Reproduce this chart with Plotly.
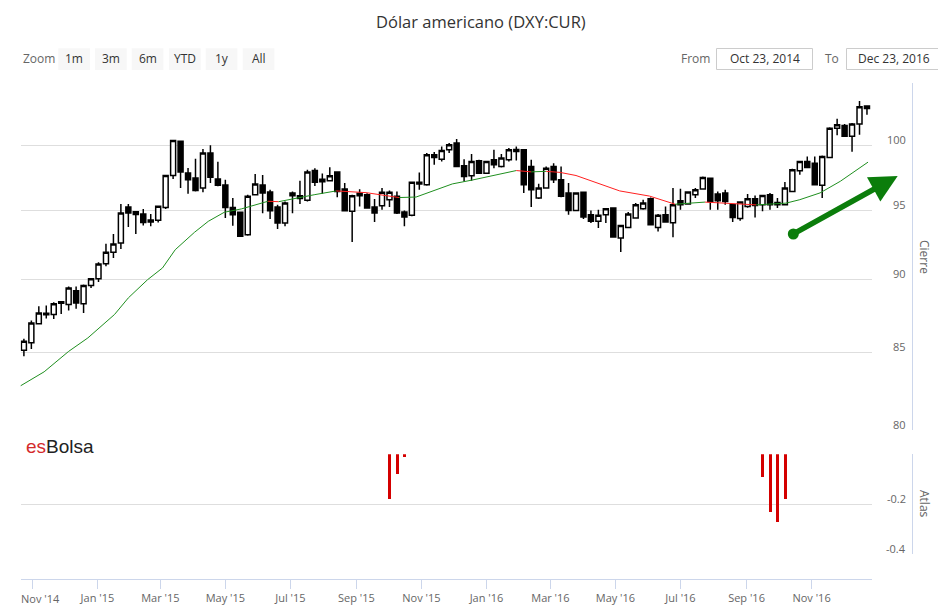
import math
import pandas as pd
import plotly.graph_objects as go

# the page body has an 8px margin, so the figure is drawn 8px in from the corner
OFF = 8
W, H = 946 - OFF, 608 - OFF

# ---- weekly DXY candles (Friday) ----
dates = pd.date_range("2014-10-24", periods=114, freq="7D")
opens = [85.15, 85.65, 86.94, 87.55, 87.57, 88.45, 88.26, 89.22, 88.32, 89.59,
         90.06, 91.13, 91.94, 92.62, 95.26, 94.90, 94.74, 94.15, 94.27, 95.23,
         97.65, 100.30, 97.83, 97.45, 96.69, 99.37, 97.37, 96.92, 95.23, 94.88,
         93.22, 96.18, 96.92, 96.38, 95.26, 94.07, 96.31, 96.10, 95.76, 98.03,
         97.35, 97.24, 97.90, 96.61, 94.94, 96.30, 96.18, 95.26, 95.36, 95.81,
         96.06, 94.89, 94.64, 97.00, 96.94, 99.24, 98.90, 99.63, 100.15, 98.38,
         97.62, 98.77, 97.82, 98.85, 98.33, 98.85, 99.50, 99.63, 98.33, 95.94,
         96.69, 98.33, 97.32, 96.31, 95.01, 96.36, 94.69, 94.20, 94.69, 95.19,
         92.98, 93.75, 94.44, 95.13, 95.88, 93.75, 94.69, 94.10, 95.73, 95.48,
         96.18, 96.61, 97.44, 96.23, 96.31, 95.43, 94.40, 95.30, 95.88, 95.43,
         96.18, 95.60, 95.43, 96.43, 98.00, 98.72, 98.59, 96.89, 99.02, 101.33,
         101.54, 100.68, 101.65, 103.10]
highs = [85.92, 87.17, 88.14, 88.20, 88.41, 88.50, 89.52, 89.52, 89.65, 90.10,
         91.23, 92.56, 93.27, 95.48, 95.48, 94.95, 95.11, 94.74, 95.36, 97.70,
         100.40, 100.35, 98.21, 98.93, 99.68, 99.99, 98.70, 97.32, 95.93, 94.90,
         96.18, 97.75, 97.68, 96.56, 95.43, 95.68, 96.43, 97.24, 98.08, 98.20,
         97.80, 98.28, 97.95, 97.07, 96.18, 96.60, 96.30, 95.86, 96.69, 96.51,
         96.43, 95.01, 97.15, 97.87, 99.37, 99.45, 99.89, 100.15, 100.47, 98.90,
         99.29, 98.85, 98.75, 99.63, 99.29, 99.76, 99.89, 99.65, 98.85, 97.02,
         98.33, 98.59, 98.33, 97.07, 96.36, 96.38, 95.01, 95.06, 95.19, 95.20,
         93.95, 94.89, 95.56, 95.81, 95.98, 94.74, 95.30, 96.69, 96.64, 96.43,
         96.69, 97.57, 97.47, 96.43, 96.56, 95.45, 95.68, 96.23, 96.13, 96.18,
         96.31, 95.93, 97.15, 98.16, 98.77, 99.10, 99.10, 99.18, 101.41, 102.08,
         101.65, 101.73, 103.50, 103.15]
lows = [84.76, 85.24, 86.90, 87.30, 87.27, 87.60, 87.84, 87.96, 87.68, 89.41,
        89.83, 90.94, 91.54, 92.18, 93.78, 93.27, 93.90, 93.83, 94.12, 95.11,
        97.37, 96.69, 96.25, 96.43, 96.36, 97.07, 96.82, 94.44, 93.88, 93.05,
        93.15, 96.13, 94.79, 94.37, 93.63, 93.83, 94.79, 95.48, 95.68, 96.84,
        96.25, 97.22, 96.00, 94.94, 92.69, 95.30, 95.15, 94.15, 95.06, 95.26,
        94.74, 93.83, 94.57, 96.56, 96.87, 98.46, 98.72, 99.37, 98.30, 97.19,
        97.24, 97.80, 97.80, 98.20, 98.25, 98.72, 98.80, 96.31, 95.26, 95.86,
        96.65, 97.07, 96.00, 94.69, 94.99, 94.37, 94.07, 93.70, 94.07, 93.00,
        91.96, 93.70, 94.40, 95.06, 93.90, 93.46, 94.10, 93.03, 95.06, 95.43,
        95.93, 96.56, 95.06, 95.06, 95.43, 94.15, 94.25, 95.20, 94.49, 94.94,
        95.06, 95.19, 95.38, 96.38, 97.70, 98.20, 96.89, 95.93, 98.97, 100.76,
        100.65, 99.47, 100.81, 102.40]
closes = [85.76, 86.99, 87.68, 87.65, 88.32, 88.35, 89.41, 88.37, 89.59, 90.06,
          91.11, 91.94, 92.54, 94.81, 94.81, 94.70, 94.12, 94.30, 95.31, 97.65,
          100.35, 97.90, 97.32, 96.51, 99.37, 97.50, 96.89, 95.23, 94.69, 93.10,
          96.06, 96.99, 96.31, 94.98, 94.07, 95.56, 96.11, 95.90, 97.90, 97.12,
          97.17, 97.62, 96.43, 94.99, 96.11, 96.10, 95.19, 94.82, 96.36, 96.36,
          94.82, 94.52, 97.12, 97.12, 99.24, 99.03, 99.58, 100.02, 98.33, 97.57,
          98.72, 97.82, 98.72, 98.46, 98.98, 99.63, 99.65, 96.94, 96.56, 96.69,
          98.20, 97.32, 96.06, 95.01, 96.31, 94.52, 94.20, 94.64, 95.13, 93.05,
          93.90, 94.74, 95.43, 95.56, 93.95, 94.64, 94.15, 95.43, 95.43, 96.38,
          96.56, 97.49, 95.68, 95.73, 95.68, 94.49, 95.63, 95.88, 95.38, 96.13,
          95.43, 95.43, 96.69, 98.08, 98.72, 98.26, 96.94, 99.10, 101.33, 101.60,
          100.68, 101.65, 103.05, 102.90]

# moving average of the close (green rising / red falling)
ma_dates = ["2014-10-20", "2014-11-12", "2014-12-05", "2014-12-23", "2015-01-17",
            "2015-01-30", "2015-02-17", "2015-03-03", "2015-03-15", "2015-04-02",
            "2015-04-15", "2015-04-30", "2015-05-16", "2015-06-10", "2015-06-20",
            "2015-06-29", "2015-07-24", "2015-08-13", "2015-09-10", "2015-10-11",
            "2015-10-27", "2015-11-30", "2015-12-19", "2016-01-29", "2016-02-12",
            "2016-02-26", "2016-03-10", "2016-03-25", "2016-04-16", "2016-05-05",
            "2016-06-02", "2016-06-26", "2016-07-24", "2016-09-10", "2016-10-08",
            "2016-10-21", "2016-11-09", "2016-11-28", "2016-12-24"]
ma_values = [82.78, 83.73, 85.08, 85.98, 87.57,
             88.72, 89.99, 90.82, 92.13, 93.39,
             94.20, 94.87, 95.12, 95.69, 95.66,
             95.81, 96.19, 96.47, 96.34, 95.97,
             96.01, 97.00, 97.30, 98.02, 97.92,
             97.96, 97.88, 97.64, 97.04, 96.47,
             96.08, 95.47, 95.63, 95.42, 95.55,
             95.81, 96.32, 97.20, 98.67]

# lower pane "Atlas"
atlas_dates = ["2015-10-02", "2015-10-09", "2015-10-16",
               "2016-09-16", "2016-09-23", "2016-09-30", "2016-10-07"]
atlas_values = [-0.18, -0.08, -0.01, -0.09, -0.23, -0.27, -0.18]

x_ticks = ["2014-11-01", "2015-01-01", "2015-03-01", "2015-05-01", "2015-07-01",
           "2015-09-01", "2015-11-01", "2016-01-01", "2016-03-01", "2016-05-01",
           "2016-07-01", "2016-09-01", "2016-11-01"]
x_labels = ["Nov '14", "Jan '15", "Mar '15", "May '15", "Jul '15", "Sep '15", "Nov '15",
            "Jan '16", "Mar '16", "May '16", "Jul '16", "Sep '16", "Nov '16"]
y_ticks = [80, 85, 90, 95, 100, 105]
y_labels = ["80", "85", "90", "95", "100", ""]
y2_ticks = [-0.4, -0.2, 0]
y2_labels = ["-0.4", "-0.2", ""]


def px(x):
    return (x - OFF) / W


def py(y):
    return 1 - (y - OFF) / H


GRID = "#dedede"
AXIS = "#ccd6eb"
LABEL = "#666666"
ARROW = "#0b7d0b"

fig = go.Figure()
fig.add_trace(go.Candlestick(
    x=dates, open=opens, high=highs, low=lows, close=closes,
    increasing=dict(line=dict(color="black", width=1.5), fillcolor="white"),
    decreasing=dict(line=dict(color="black", width=1.5), fillcolor="black"),
    whiskerwidth=0, hoverinfo="skip", xaxis="x", yaxis="y"))

# split the average into rising / falling runs
def rising(j):
    return ma_values[j] >= ma_values[j - 1]


start = 0
for k in range(1, len(ma_values) + 1):
    if k == len(ma_values) or (k > 1 and rising(k) != rising(k - 1)):
        col = "#1f8f1f" if rising(k - 1) else "#ff2020"
        fig.add_trace(go.Scatter(x=ma_dates[start:k], y=ma_values[start:k], mode="lines",
                                 line=dict(color=col, width=1), hoverinfo="skip",
                                 xaxis="x", yaxis="y"))
        start = k - 1

fig.add_trace(go.Bar(x=atlas_dates, y=atlas_values, marker=dict(color="#d40000", line_width=0),
                     width=2.6 * 86400000, hoverinfo="skip", xaxis="x", yaxis="y2"))

yaxis_common = dict(anchor="free", position=px(912), side="left", showline=True,
                    linecolor=AXIS, linewidth=1, ticks="", showticklabels=False,
                    showgrid=True, gridcolor=GRID, zeroline=False)

fig.update_layout(
    width=W, height=H,
    margin=dict(l=0, r=0, t=0, b=0),
    paper_bgcolor="white", plot_bgcolor="white",
    showlegend=False, boxgap=0.33, boxgroupgap=0, bargap=0,
    font=dict(family="Open Sans", color="#333333", size=12),
    xaxis=dict(type="date", domain=[px(20.7), px(872.3)], range=["2014-10-21", "2016-12-28"],
               anchor="free", position=py(579), showline=True, linecolor=AXIS, linewidth=1,
               ticks="outside", ticklen=9, tickcolor=AXIS, tickvals=x_ticks,
               ticktext=[""] + x_labels[1:], showgrid=False, zeroline=False,
               rangeslider=dict(visible=False), tickfont=dict(size=11, color=LABEL)),
    yaxis=dict(type="log", domain=[py(430), py(82.7)],
               range=[math.log10(80), math.log10(105)], tickvals=y_ticks, **yaxis_common),
    yaxis2=dict(domain=[py(554.3), py(454.3)], range=[-0.4, 0], tickvals=y2_ticks,
                **yaxis_common),
)

ann = []
shapes = []
# title kept just inside the top edge of the figure
ann.append(dict(text="Dólar americano (DXY:CUR)", x=px(481), y=py(8.5), yanchor="top",
                borderpad=0, font=dict(size=16.5, color="#333333")))
ann.append(dict(text=x_labels[0], x=px(40.3), y=py(598), font=dict(size=11, color=LABEL)))
ann.append(dict(text="Cierre", x=px(925), y=py(257), textangle=90, font=dict(size=12, color=LABEL)))
ann.append(dict(text="Atlas", x=px(925), y=py(504), textangle=90, font=dict(size=12, color=LABEL)))
ann.append(dict(text="<span style='color:#d42b2b'>es</span>Bolsa", x=px(24), y=py(446),
                xanchor="left", font=dict(family="Liberation Sans, Arial", size=19, color="#222222")))

# value labels of the two right-hand axes, sitting just above their grid lines
for v, t in zip(y_ticks, y_labels):
    if t:
        ann.append(dict(text=t, x=px(908), y=math.log10(v), yref="y", xanchor="right",
                        yshift=6, font=dict(size=11, color=LABEL)))
for v, t in zip(y2_ticks, y2_labels):
    if t:
        ann.append(dict(text=t, x=px(908), y=v, yref="y2", xanchor="right",
                        yshift=6, font=dict(size=11, color=LABEL)))

# range selector look-alike
ann.append(dict(text="Zoom", x=px(20.7), y=py(59), xanchor="left", font=dict(size=12, color=LABEL)))
buttons = [("1m", 58.3), ("3m", 95.0), ("6m", 131.7), ("YTD", 169.0), ("1y", 205.7), ("All", 242.7)]
for label, x0 in buttons:
    shapes.append(dict(type="rect", xref="paper", yref="paper", x0=px(x0), x1=px(x0 + 31.7),
                       y0=py(70), y1=py(48.3), fillcolor="#f7f7f7", line_width=0, layer="below"))
    ann.append(dict(text=label, x=px(x0 + 15.8), y=py(59), font=dict(size=12, color="#333333")))

ann.append(dict(text="From", x=px(695), y=py(58.5), font=dict(size=12, color=LABEL)))
ann.append(dict(text="To", x=px(831.5), y=py(58.5), font=dict(size=12, color=LABEL)))
for text, x0, x1 in [("Oct 23, 2014", 716.5, 812.5), ("Dec 23, 2016", 846.5, 940.5)]:
    shapes.append(dict(type="rect", xref="paper", yref="paper", x0=px(x0), x1=px(x1),
                       y0=py(69.5), y1=py(48.5), line=dict(color="#cccccc", width=1)))
    ann.append(dict(text=text, x=px((x0 + x1) / 2), y=py(59), font=dict(size=12, color="#333333")))

for a in ann:
    a.setdefault("xref", "paper")
    a.setdefault("yref", "paper")
    a.setdefault("showarrow", False)
    a.setdefault("xanchor", "center")
    a.setdefault("yanchor", "middle")

# green arrow
ann.append(dict(text="", x=px(897.7), y=py(176), xref="paper", yref="paper", showarrow=True,
                ax=793.3 - 897.7, ay=234 - 176, arrowhead=2, arrowsize=1.0, arrowwidth=5.5,
                arrowcolor=ARROW, standoff=0))
shapes.append(dict(type="circle", xref="paper", yref="paper", x0=px(787.8), x1=px(798.8),
                   y0=py(239.5), y1=py(228.5), fillcolor=ARROW, line_width=0))

fig.update_layout(annotations=ann, shapes=shapes)

fig.write_html("out.html")
